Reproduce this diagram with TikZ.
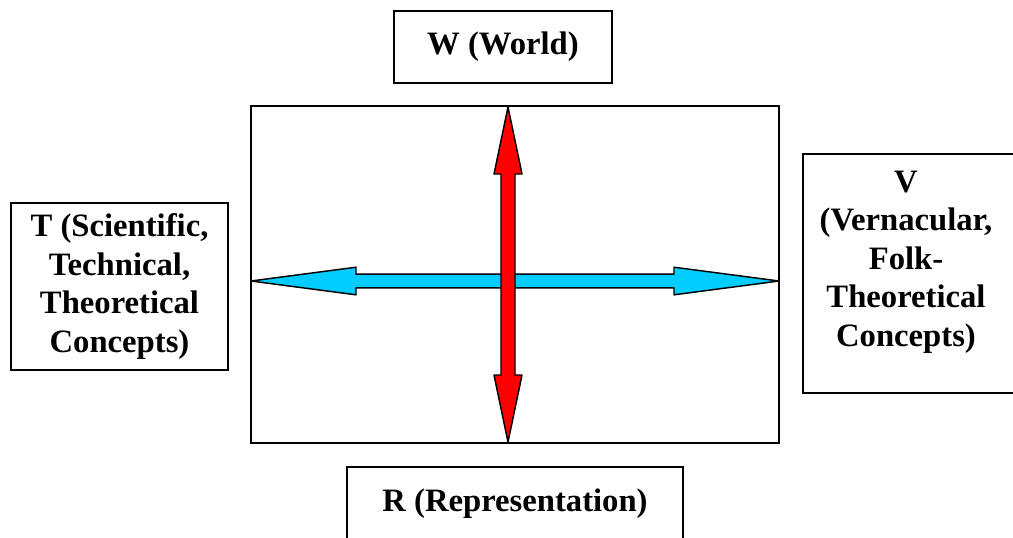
\documentclass[tikz,border=0pt]{standalone}
\usepackage{fontspec}
\setmainfont{Liberation Serif}
\usetikzlibrary{positioning, calc}
\definecolor{folk}{RGB}{0, 204, 255}
\definecolor{world}{RGB}{255, 0, 0}
\newlength\pxu
\setlength\pxu{0.75pt}

\begin{document}
\begin{tikzpicture}[
    x=0.75pt, y=-0.75pt,
    concept/.style={
        rectangle, draw=black, fill=white,
        line width=1.1pt, align=center,
        inner sep=0pt,
        font=\bfseries\fontsize{24.5}{28.8}\selectfont,
    },
    label text/.style={
        align=center, inner sep=0pt,
        font=\bfseries\fontsize{24.5}{28.8}\selectfont,
    },
    frame/.style={
        rectangle, draw=black, line width=1.3pt,
        inner sep=0pt,
    },
    fatarrow/.style={
        draw=black, fill=#1, line width=1.1pt, line join=round,
    },
]

\path[use as bounding box] (0,0) rectangle (1013,537);
\clip (0,0) rectangle (1013,537);

% =================================================
% Central frame and the four concept boxes
% =================================================

\node[frame, minimum width=528\pxu, minimum height=337\pxu] (frame) at (515,274.5) {};

\node[concept, minimum width=218\pxu, minimum height=72\pxu] (world) at (503,47) {W (World)};

\node[concept, minimum width=217\pxu, minimum height=167\pxu] (sci) at (119.5,286.5) {%
    T (Scientific,\\Technical,\\Theoretical\\Concepts)};

\node[concept, minimum width=217\pxu, minimum height=239\pxu] (vern) at (911.5,273.5) {};
\node[label text] (verntext) at (906,262) {%
    V\\(Vernacular,\\Folk-\\Theoretical\\Concepts)};

\node[concept, minimum width=336\pxu, minimum height=74\pxu] (repr) at (515,504) {R (Representation)};

% =================================================
% Arrow tips on the frame
% =================================================
\coordinate (ttip) at (251,281);
\coordinate (vtip) at (779,281);
\coordinate (wtip) at (508,107);
\coordinate (rtip) at (508,442);

% =================================================
% Double arrows
% =================================================
\draw[fatarrow=folk] (ttip) -- ++(105,-13.8) -- ++(0,7)
    -- ($(vtip)+(-105,-6.8)$) -- ++(0,-7) -- (vtip)
    -- ++(-105,13.8) -- ++(0,-7)
    -- ($(ttip)+(105,6.8)$) -- ++(0,7) -- cycle;

\draw[fatarrow=world] (wtip) -- ++(14,67) -- ++(-7,0)
    -- ($(rtip)+(7,-67)$) -- ++(7,0) -- (rtip)
    -- ++(-14,-67) -- ++(7,0)
    -- ($(wtip)+(-7,67)$) -- ++(-7,0) -- cycle;

\end{tikzpicture}
\end{document}
